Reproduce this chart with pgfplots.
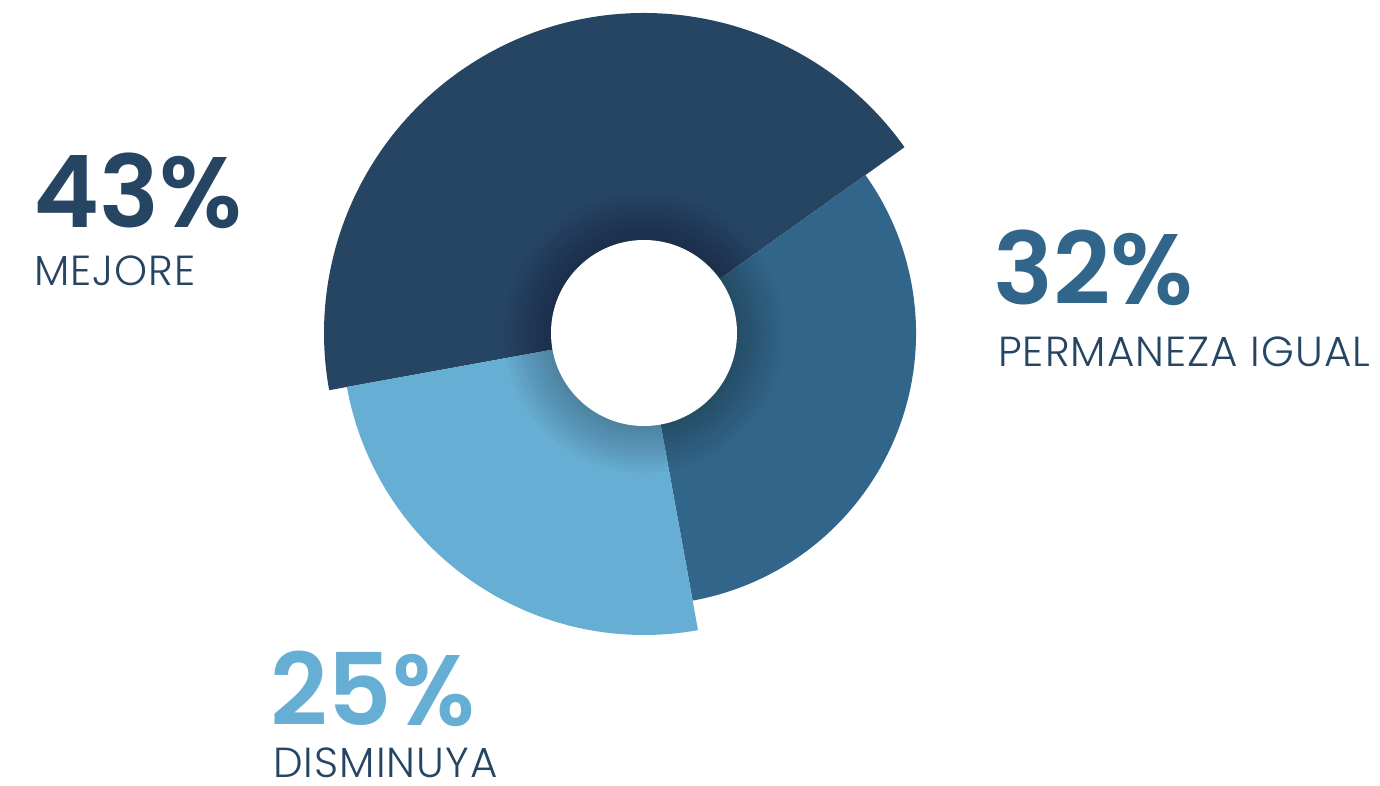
\documentclass[border=0pt]{standalone}
\usepackage{pgfplots}
\usepackage{pgfplotstable}
\pgfplotsset{compat=1.18}
\usepackage{fontspec}
\setmainfont{Poppins}[UprightFont=* Light, BoldFont=* SemiBold]
\definecolor{navy}{HTML}{264563}
\definecolor{midblue}{HTML}{31658A}
\definecolor{lightblue}{HTML}{66AED3}

% value (percent), outer radius (px)
\pgfplotstableread{
value radius
43 320
32 272
25 302
}\donut

\pgfplotstablegetelem{0}{value}\of\donut \let\valA\pgfplotsretval
\pgfplotstablegetelem{1}{value}\of\donut \let\valB\pgfplotsretval
\pgfplotstablegetelem{2}{value}\of\donut \let\valC\pgfplotsretval
\pgfplotstablegetelem{0}{radius}\of\donut \let\radA\pgfplotsretval
\pgfplotstablegetelem{1}{radius}\of\donut \let\radB\pgfplotsretval
\pgfplotstablegetelem{2}{radius}\of\donut \let\radC\pgfplotsretval
\pgfmathsetmacro\angA{35.5}
\pgfmathsetmacro\angAend{\angA+3.6*\valA}
\pgfmathsetmacro\angB{\angA-3.6*\valB}
\pgfmathsetmacro\angC{\angB-3.6*\valC}

\newcommand\pct{\fontsize{100}{100}\selectfont\bfseries}
\newcommand\lbl{\fontsize{42}{42}\selectfont\addfontfeatures{LetterSpace=2.5}}

\begin{document}
\begin{tikzpicture}
\begin{axis}[
    width=1380pt, height=785pt, scale only axis,
    xmin=0, xmax=1380, ymin=0, ymax=785,
    hide axis, clip=false,
]
% slices
\fill[navy] (axis cs:644,452) -- ++(\angA:\radA pt) arc[start angle=\angA, end angle=\angAend, radius=\radA pt] -- cycle;
\fill[midblue] (axis cs:644,452) -- ++(\angB:\radB pt) arc[start angle=\angB, end angle=\angA, radius=\radB pt] -- cycle;
\fill[lightblue] (axis cs:644,452) -- ++(\angC:\radC pt) arc[start angle=\angC, end angle=\angB, radius=\radC pt] -- cycle;
% soft shadow round the hole
\pgfplotsinvokeforeach{140,136,...,96}{
  \fill[black, opacity=0.02] (axis cs:644,452) circle[radius=#1pt];
}
\fill[white] (axis cs:644,452) circle[radius=93pt];
% labels
\begin{scope}[every node/.style={anchor=base west, inner sep=0, text depth=0pt}]
\node[text=navy, font=\pct] at (axis cs:33,557) {43\%};
\node[text=navy, font=\lbl] at (axis cs:34,499) {MEJORE};
\node[text=midblue, font=\pct] at (axis cs:993,480) {32\%};
\node[text=navy, font=\lbl] at (axis cs:998,418) {PERMANEZA IGUAL};
\node[text=lightblue, font=\pct] at (axis cs:270,60) {25\%};
\node[text=navy, font=\lbl] at (axis cs:273,8) {DISMINUYA};
\end{scope}
\end{axis}
\pgfresetboundingbox
\path[use as bounding box] (current axis.south west) rectangle (current axis.north east);
\end{tikzpicture}
\end{document}
